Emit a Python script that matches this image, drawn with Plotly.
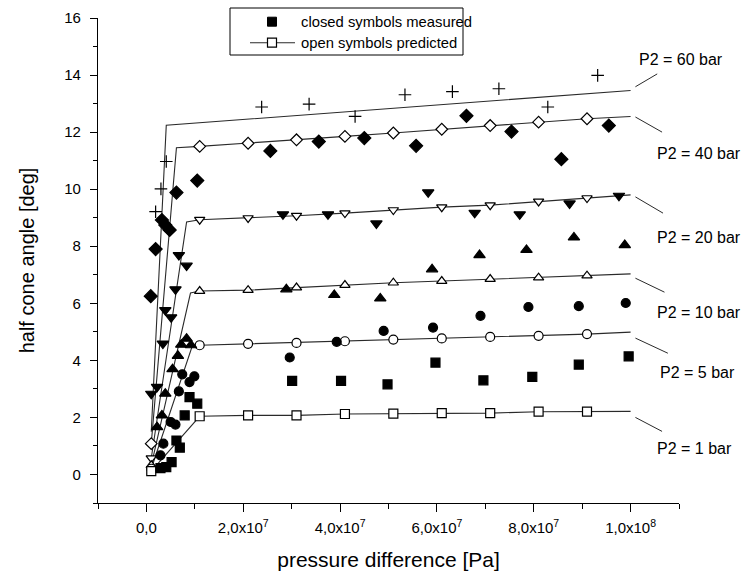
import plotly.graph_objects as go

# ---------------- measured half cone angles (closed symbols) ----------------
p_meas_60 = [1.9e6, 3.0e6, 4.1e6, 23.8e6, 33.6e6, 43.1e6, 53.4e6, 63.2e6, 72.8e6, 82.9e6, 93.2e6]
a_meas_60 = [9.21, 10.01, 10.97, 12.88, 12.98, 12.55, 13.31, 13.42, 13.52, 12.88, 13.99]

p_meas_40 = [0.9e6, 1.9e6, 3.2e6, 3.9e6, 4.8e6, 6.2e6, 10.5e6, 25.6e6, 35.6e6, 45.0e6,
             55.7e6, 66.1e6, 75.4e6, 85.7e6, 95.5e6]
a_meas_40 = [6.25, 7.90, 8.92, 8.74, 8.57, 9.88, 10.30, 11.34, 11.67, 11.79,
             11.52, 12.57, 12.02, 11.05, 12.23]

p_meas_20 = [1.0e6, 2.2e6, 3.4e6, 3.9e6, 5.1e6, 6.0e6, 6.7e6, 8.3e6, 28.2e6, 37.5e6,
             47.5e6, 58.2e6, 67.8e6, 77.1e6, 87.4e6, 97.6e6]
a_meas_20 = [2.83, 3.07, 4.59, 5.76, 5.51, 6.49, 7.69, 7.32, 9.12, 9.12,
             8.80, 9.89, 9.17, 9.12, 9.50, 9.77]

p_meas_10 = [2.2e6, 3.2e6, 3.9e6, 5.4e6, 6.5e6, 7.2e6, 8.3e6, 9.2e6, 28.9e6, 38.8e6,
             48.3e6, 59.0e6, 68.8e6, 78.5e6, 88.3e6, 98.8e6]
a_meas_10 = [1.66, 2.07, 2.83, 3.69, 4.16, 4.55, 4.76, 4.53, 6.49, 6.29,
             6.17, 7.19, 7.69, 7.87, 8.31, 8.04]

p_meas_5 = [2.9e6, 3.5e6, 5.0e6, 6.0e6, 6.7e6, 7.4e6, 8.9e6, 9.9e6, 29.6e6, 39.3e6,
            49.0e6, 59.2e6, 69.0e6, 78.9e6, 89.3e6, 99.0e6]
a_meas_5 = [0.67, 1.08, 1.84, 1.75, 2.91, 3.51, 3.24, 3.44, 4.10, 4.65,
            5.03, 5.15, 5.56, 5.87, 5.90, 6.01]

p_meas_1 = [2.9e6, 4.1e6, 5.2e6, 6.2e6, 6.9e6, 7.9e6, 8.9e6, 10.5e6, 30.1e6, 40.2e6,
            49.8e6, 59.7e6, 69.6e6, 79.7e6, 89.3e6, 99.6e6]
a_meas_1 = [0.22, 0.26, 0.43, 1.19, 0.94, 2.07, 2.71, 2.48, 3.28, 3.28,
            3.16, 3.92, 3.30, 3.42, 3.85, 4.14]

# ---------------- predicted half cone angles (open symbols, model lines) ----------------
p_start = 1.0e6          # first predicted pressure difference
p_open = [11e6, 21e6, 31e6, 41e6, 51e6, 61e6, 71e6, 81e6, 91e6]
p_end = 1.0e8            # model lines run to this pressure difference

a_start_60, p_knee_60, a_knee_60, a_end_60 = 1.50, 4.1e6, 12.24, 13.46

a_start_40, p_knee_40, a_knee_40, a_end_40 = 1.08, 6.2e6, 11.45, 12.55
a_open_40 = [11.50, 11.61, 11.73, 11.85, 11.97, 12.10, 12.23, 12.35, 12.47]

a_start_20, p_knee_20, a_knee_20, a_end_20 = 0.57, 8.3e6, 8.85, 9.80
a_open_20 = [8.93, 8.99, 9.07, 9.16, 9.27, 9.37, 9.44, 9.57, 9.69]

a_start_10, p_knee_10, a_knee_10, a_end_10 = 0.32, 9.1e6, 6.36, 7.03
a_open_10 = [6.43, 6.46, 6.55, 6.64, 6.72, 6.78, 6.85, 6.90, 6.97]

a_start_5, p_knee_5, a_knee_5, a_end_5 = 0.20, 9.5e6, 4.52, 4.99
a_open_5 = [4.53, 4.58, 4.61, 4.67, 4.73, 4.77, 4.82, 4.86, 4.92]

a_start_1, a_end_1 = 0.12, 2.21
a_open_1 = [2.04, 2.07, 2.07, 2.12, 2.13, 2.15, 2.15, 2.20, 2.20]

labels = ["P2 = 60 bar", "P2 = 40 bar", "P2 = 20 bar", "P2 = 10 bar", "P2 = 5 bar", "P2 = 1 bar"]
legend_texts = ["closed symbols measured", "open symbols predicted"]

x_tickvals = [0, 2e7, 4e7, 6e7, 8e7, 1e8]
x_ticktext = ["0,0", "2,0x10<sup>7</sup>", "4,0x10<sup>7</sup>", "6,0x10<sup>7</sup>",
              "8,0x10<sup>7</sup>", "1,0x10<sup>8</sup>"]

FONT = "Liberation Sans, Arial, sans-serif"
INK = "black"
LINE = "#2a2a2a"

W, H = 742, 574
M_L, M_R, M_T, M_B = 98, 63, 18, 71

fig = go.Figure()

# model curves: start -> knee -> predicted points -> end
curves = [
    ([p_start, p_knee_60, p_end], [a_start_60, a_knee_60, a_end_60]),
    ([p_start, p_knee_40] + p_open + [p_end], [a_start_40, a_knee_40] + a_open_40 + [a_end_40]),
    ([p_start, p_knee_20] + p_open + [p_end], [a_start_20, a_knee_20] + a_open_20 + [a_end_20]),
    ([p_start, p_knee_10] + p_open + [p_end], [a_start_10, a_knee_10] + a_open_10 + [a_end_10]),
    ([p_start, p_knee_5] + p_open + [p_end], [a_start_5, a_knee_5] + a_open_5 + [a_end_5]),
    ([p_start] + p_open + [p_end], [a_start_1] + a_open_1 + [a_end_1]),
]
for xs, ys in curves:
    fig.add_trace(go.Scatter(x=xs, y=ys, mode="lines", showlegend=False, hoverinfo="skip",
                             line=dict(color=LINE, width=1.1)))

# predicted (open) symbols
open_sets = [
    ("diamond", 9, a_start_40, a_open_40),
    ("triangle-down", 9, a_start_20, a_open_20),
    ("triangle-up", 9, a_start_10, a_open_10),
    ("circle", 9, a_start_5, a_open_5),
    ("square", 9, a_start_1, a_open_1),
]
for sym, size, a0, avals in open_sets:
    fig.add_trace(go.Scatter(x=[p_start] + p_open, y=[a0] + avals, mode="markers", showlegend=False,
                             marker=dict(symbol=sym, size=size, color="white",
                                         line=dict(color=INK, width=1.2))))

# measured (closed) symbols
meas_sets = [
    ("cross-thin", 9, p_meas_60, a_meas_60),
    ("diamond", 10, p_meas_40, a_meas_40),
    ("triangle-down", 10, p_meas_20, a_meas_20),
    ("triangle-up", 10, p_meas_10, a_meas_10),
    ("circle", 9, p_meas_5, a_meas_5),
    ("square", 9, p_meas_1, a_meas_1),
]
for sym, size, xs, ys in meas_sets:
    fig.add_trace(go.Scatter(x=xs, y=ys, mode="markers", showlegend=False,
                             marker=dict(symbol=sym, size=size, color=INK,
                                         line=dict(color=INK, width=1.2))))

# pressure labels with leader lines next to the curve ends
ends = [a_end_60, a_end_40, a_end_20, a_end_10, a_end_5, a_end_1]
lead_dy = [(0.13, 0.58), (-0.02, -0.55), (-0.07, -0.64), (-0.15, -0.64), (-0.21, -0.74), (-0.21, -0.70)]
lead_x1 = [1.055e8, 1.065e8, 1.067e8, 1.07e8, 1.077e8, 1.065e8]
text_x = [1.014e8, 1.05e8, 1.05e8, 1.05e8, 1.056e8, 1.05e8]
text_dy = [1.08, -1.31, -1.48, -1.34, -1.41, -1.30]
for lab, a_end, (d0, d1), lx1, tx, tdy in zip(labels, ends, lead_dy, lead_x1, text_x, text_dy):
    fig.add_shape(type="line", xref="x", yref="y", x0=1.01e8, x1=lx1,
                  y0=a_end + d0, y1=a_end + d1, line=dict(color=LINE, width=1))
    fig.add_annotation(x=tx, y=a_end + tdy, xref="x", yref="y", text=lab, showarrow=False,
                       xanchor="left", yanchor="middle", font=dict(family=FONT, size=16, color=INK))


# ---- boxed key (symbol swatches + text), placed in pixel terms of the figure ----
def px_x(px):
    return (px - M_L) / (W - M_L - M_R)


def px_y(py):
    return (H - M_B - py) / (H - M_T - M_B)


fig.add_shape(type="rect", xref="paper", yref="paper", x0=px_x(230), x1=px_x(463),
              y0=px_y(55), y1=px_y(8), line=dict(color=INK, width=1), fillcolor="white", layer="above")
# closed swatch
fig.add_shape(type="rect", xref="paper", yref="paper", x0=px_x(267.5), x1=px_x(276.5),
              y0=px_y(26.2), y1=px_y(17.2), line=dict(color=INK, width=1), fillcolor=INK, layer="above")
# open swatch: line with a white square on top
fig.add_shape(type="line", xref="paper", yref="paper", x0=px_x(250), x1=px_x(295),
              y0=px_y(42.7), y1=px_y(42.7), line=dict(color=LINE, width=1.1), layer="above")
fig.add_shape(type="rect", xref="paper", yref="paper", x0=px_x(267.5), x1=px_x(276.5),
              y0=px_y(47.2), y1=px_y(38.2), line=dict(color=INK, width=1.2), fillcolor="white",
              layer="above")
for txt, py in zip(legend_texts, [21.7, 42.7]):
    fig.add_annotation(x=px_x(299), y=px_y(py), xref="paper", yref="paper", text=txt,
                       showarrow=False, xanchor="left", yanchor="middle",
                       font=dict(family=FONT, size=14.8, color=INK))

fig.update_layout(
    width=W, height=H,
    margin=dict(l=M_L, r=M_R, t=M_T, b=M_B),
    paper_bgcolor="white", plot_bgcolor="white",
    font=dict(family=FONT, color=INK),
    showlegend=False,
    xaxis=dict(range=[-1e7, 1.1e8], tickmode="array", tickvals=x_tickvals, ticktext=x_ticktext,
               automargin=False,
               showgrid=False, zeroline=False, showline=True, linecolor=INK, linewidth=1.2,
               ticks="outside", ticklen=8, tickwidth=1.2, tickcolor=INK, ticklabelstandoff=3,
               tickfont=dict(family=FONT, size=15, color=INK),
               minor=dict(tickmode="linear", tick0=-1e7, dtick=1e7, ticks="outside",
                          ticklen=5, tickwidth=1.2, tickcolor=INK),
               title=dict(text="pressure difference [Pa]", standoff=17,
                          font=dict(family=FONT, size=21, color=INK))),
    yaxis=dict(range=[-1, 16], tickmode="linear", tick0=0, dtick=2,
               automargin=False,
               showgrid=False, zeroline=False, showline=True, linecolor=INK, linewidth=1.2,
               ticks="outside", ticklen=7, tickwidth=1.2, tickcolor=INK, ticklabelstandoff=6,
               tickfont=dict(family=FONT, size=15, color=INK),
               minor=dict(tickmode="linear", tick0=-1, dtick=1, ticks="outside",
                          ticklen=4, tickwidth=1.2, tickcolor=INK),
               title=dict(text="half cone angle [deg]", standoff=24,
                          font=dict(family=FONT, size=20, color=INK))),
)

fig.write_html("out.html")
